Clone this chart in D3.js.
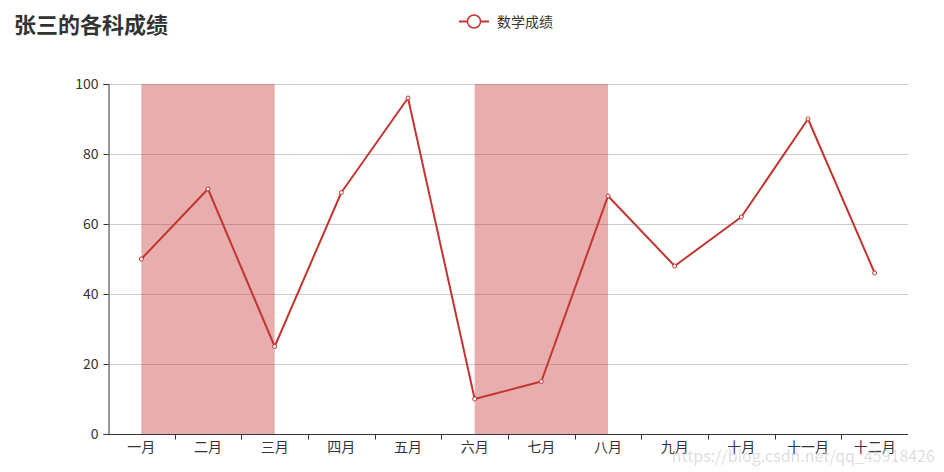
<!DOCTYPE html>
<html><head><meta charset="utf-8">
<script src="https://cdn.jsdelivr.net/npm/d3@7"></script>
<style>body{margin:0;background:#fff;}svg{display:block;}text{font-family:"Noto Sans CJK SC","Noto Sans",sans-serif;}</style>
</head><body>
<svg id="chart" width="944" height="472"></svg>
<script>
const categories = ["一月","二月","三月","四月","五月","六月","七月","八月","九月","十月","十一月","十二月"];
const scores = [50, 70, 25, 69, 96, 10, 15, 68, 48, 62, 90, 46];
const yTicks = [0, 20, 40, 60, 80, 100];
const markAreas = [["一月","三月"],["六月","八月"]];
const titleText = "张三的各科成绩";
const seriesName = "数学成绩";

const svg = d3.select("#chart");
const W = 944, H = 472;
const m = {l:108, r:36, t:84, b:38};
const x = d3.scaleBand().domain(categories).range([m.l, W - m.r]);
const y = d3.scaleLinear().domain([0, 100]).range([H - m.b, m.t]);
const cx = c => x(c) + x.bandwidth()/2;
const red = "#c23531";

// grid
svg.append("g").selectAll("line").data(yTicks.filter(t=>t>0)).join("line")
  .attr("x1", m.l).attr("x2", W - m.r)
  .attr("y1", d=>y(d)+0.5).attr("y2", d=>y(d)+0.5)
  .attr("stroke", "#ccc").attr("stroke-width",1);

// mark areas
svg.append("g").selectAll("rect").data(markAreas).join("rect")
  .attr("x", d=>cx(d[0])).attr("width", d=>cx(d[1]) - cx(d[0]))
  .attr("y", y(100)).attr("height", y(0) - y(100))
  .attr("fill", "rgba(194,53,49,0.4)");

// y axis
const yAxis = svg.append("g").attr("transform", `translate(${m.l+0.5},0)`)
  .call(d3.axisLeft(y).tickValues(yTicks).tickSize(5).tickPadding(5));
yAxis.select(".domain").attr("stroke", "#333");
yAxis.selectAll(".tick line").attr("stroke", "#333");
yAxis.selectAll("text").attr("fill", "#333").attr("font-size", 14);

// x axis
const xAxis = svg.append("g").attr("transform", `translate(0,${y(0)+0.5})`)
  .call(d3.axisBottom(x).tickSize(0).tickPadding(8));
xAxis.select(".domain").attr("stroke", "#333").attr("d", `M${m.l},0H${W-m.r}`);
xAxis.selectAll("text").attr("fill", "#333").attr("font-size", 14);
xAxis.append("g").selectAll("line").data(categories.slice(1)).join("line")
  .attr("x1", d=>Math.round(x(d))+0.5).attr("x2", d=>Math.round(x(d))+0.5)
  .attr("y1", 0).attr("y2", 5).attr("stroke", "#333");

// line
const line = d3.line().x((d,i)=>cx(categories[i])).y(d=>y(d));
svg.append("path").datum(scores).attr("d", line)
  .attr("fill", "none").attr("stroke", red).attr("stroke-width", 2).attr("stroke-linejoin","round");
svg.append("g").selectAll("circle").data(scores).join("circle")
  .attr("cx", (d,i)=>cx(categories[i])).attr("cy", d=>y(d)).attr("r", 2)
  .attr("fill", "#fff").attr("stroke", red).attr("stroke-width", 1);

// title
svg.append("text").attr("x", 14).attr("y", 33).text(titleText)
  .attr("font-size", 22).attr("font-weight", "bold").attr("fill", "#333");

// legend
const lg = svg.append("g");
lg.append("line").attr("x1", 459).attr("x2", 489).attr("y1", 21.5).attr("y2", 21.5)
  .attr("stroke", red).attr("stroke-width", 2);
lg.append("circle").attr("cx", 474).attr("cy", 21.5).attr("r", 6.5)
  .attr("fill", "#fff").attr("stroke", red).attr("stroke-width", 1.5);
lg.append("text").attr("x", 497).attr("y", 26.5).text(seriesName)
  .attr("font-size", 14).attr("fill", "#333");

// watermark
svg.append("text").attr("x", 935).attr("y", 462).attr("text-anchor", "end")
  .text("https://blog.csdn.net/qq_45918426")
  .attr("font-family", "Liberation Sans, Arial, sans-serif")
  .attr("font-size", 16).attr("fill", "rgba(190,190,190,0.5)");
</script>
</body></html>
